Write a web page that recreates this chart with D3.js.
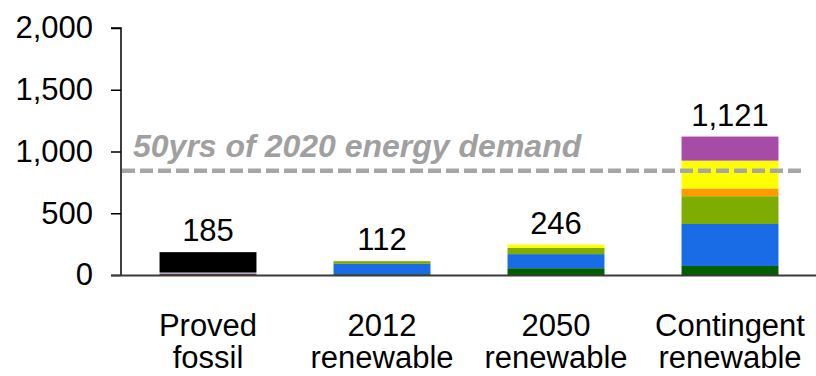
<!DOCTYPE html>
<html>
<head>
<meta charset="utf-8">
<script src="https://cdn.jsdelivr.net/npm/d3@7"></script>
<style>
  html, body { margin: 0; padding: 0; background: #fff; }
  svg { display: block; font-family: "Liberation Sans", Arial, sans-serif; }
</style>
</head>
<body>
<svg id="chart" width="816" height="376"></svg>
<script>
// Resource totals by category (stacked)
const categories = ["Proved fossil", "2012 renewable", "2050 renewable", "Contingent renewable"];
const categoryLines = [["Proved", "fossil"], ["2012", "renewable"], ["2050", "renewable"], ["Contingent", "renewable"]];
const totals = [185, 112, 246, 1121];

// Stack layers, bottom to top
const seriesKeys = ["f1", "f2", "f3", "r1", "r2", "r3", "r4", "r5", "r6"];
const f1 = [8, 0, 0, 0];
const f2 = [12, 0, 0, 0];
const f3 = [165, 0, 0, 0];
const r1 = [0, 7, 55, 73];
const r2 = [0, 83, 114, 340];
const r3 = [0, 22, 50, 225];
const r4 = [0, 0, 0, 63];
const r5 = [0, 0, 27, 225];
const r6 = [0, 0, 0, 195];
const seriesColors = ["#8e1c1c", "#9fb2cf", "#000000", "#006000", "#1a6be6", "#7fac00", "#ff9a00", "#ffff00", "#a64ca6"];

const yTicks = [0, 500, 1000, 1500, 2000];
const demandLine = 845;
const demandLabel = "50yrs of 2020 energy demand";

const seriesValues = { f1, f2, f3, r1, r2, r3, r4, r5, r6 };
const table = categories.map((c, i) => {
  const row = { category: c };
  seriesKeys.forEach(k => { row[k] = seriesValues[k][i]; });
  return row;
});

const svg = d3.select("#chart");
const x0 = 121, x1 = 817, yTop = 28, yBase = 275;
const fontSize = 31;

const x = d3.scaleBand().domain(categories).range([x0, x1]).paddingInner(0.443).paddingOuter(0.2215);
const y = d3.scaleLinear().domain([0, 2000]).range([yBase, yTop]);
const color = d3.scaleOrdinal().domain(seriesKeys).range(seriesColors);

const stacked = d3.stack().keys(seriesKeys)(table);

svg.append("g").selectAll("g").data(stacked).join("g")
  .attr("fill", d => color(d.key))
  .selectAll("rect").data(d => d).join("rect")
  .attr("x", d => x(d.data.category))
  .attr("width", x.bandwidth())
  .attr("y", d => y(d[1]))
  .attr("height", d => y(d[0]) - y(d[1]));

// Reference line for cumulative demand
svg.append("line")
  .attr("x1", x0 + 1).attr("x2", 806)
  .attr("y1", y(demandLine)).attr("y2", y(demandLine))
  .attr("stroke", "#a6a6a6").attr("stroke-width", 4.5)
  .attr("stroke-dasharray", "13,5");

svg.append("text")
  .attr("x", 133).attr("y", y(demandLine) - 14)
  .attr("fill", "#a0a0a0")
  .attr("font-size", 32).attr("font-weight", "bold").attr("font-style", "italic")
  .text(demandLabel);

// Y axis
const yAxis = d3.axisLeft(y).tickValues(yTicks).tickSize(10).tickPadding(18)
  .tickFormat(d3.format(","));
const gy = svg.append("g").attr("transform", `translate(${x0},0)`).call(yAxis);
gy.select(".domain").attr("stroke", "#000").attr("stroke-width", 1.5).attr("d", `M-10,${yTop}H0V${yBase}`);
gy.selectAll(".tick line").attr("stroke", "#000").attr("stroke-width", 1.5);
gy.selectAll(".tick text").attr("font-size", fontSize).attr("fill", "#000")
  .attr("font-family", "'Liberation Sans', Arial, sans-serif");

// Baseline
svg.append("line")
  .attr("x1", 111).attr("x2", 816)
  .attr("y1", yBase + 0.5).attr("y2", yBase + 0.5)
  .attr("stroke", "#3a3a3a").attr("stroke-width", 2);

// Value labels
svg.append("g").selectAll("text").data(categories).join("text")
  .attr("x", d => x(d) + x.bandwidth() / 2)
  .attr("y", (d, i) => y(totals[i]) - 11)
  .attr("text-anchor", "middle")
  .attr("font-size", fontSize).attr("fill", "#000")
  .text((d, i) => d3.format(",")(totals[i]));

// Category labels (two lines each)
const cat = svg.append("g").selectAll("text").data(categories).join("text")
  .attr("x", d => x(d) + x.bandwidth() / 2)
  .attr("y", 336)
  .attr("text-anchor", "middle")
  .attr("font-size", fontSize).attr("fill", "#000");
cat.selectAll("tspan").data((d, i) => categoryLines[i]).join("tspan")
  .attr("x", function () { return this.parentNode.getAttribute("x"); })
  .attr("dy", (d, j) => j === 0 ? 0 : 32)
  .text(d => d);
</script>
</body>
</html>
